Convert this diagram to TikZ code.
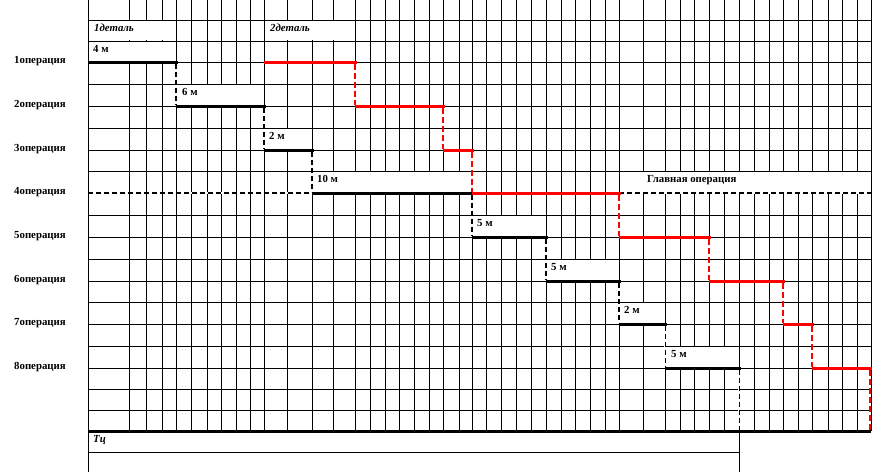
\documentclass[tikz,border=0pt]{standalone}
\usepackage[x11names]{xcolor}
\usepackage{fontspec}
\setmainfont{Liberation Serif}
\usepackage{tikz}

\begin{document}
\begin{tikzpicture}[x=1pt, y=-1pt]
    \def\fdraw{black}
    \def\sdraw{red}
    \def\xl{88}
    \def\xr{871}
    \def\ybot{431}
    \def\steplw{3pt}
    \def\gridlw{1pt}
    \def\lfont{\fontsize{10.8}{12}\selectfont\bfseries}
    \useasboundingbox (0,0) rectangle (877,475);

    % grid
    \foreach \y in {20,41,62,84,106,128,150,171,215,237,259,281,302,324,346,368,389,410}
        \draw[-, black, line width=\gridlw] (\xl,\y) -- (\xr,\y);
    \foreach \x in {129,146,162,176,191,207,221,236,250,264,287,312,333,355,370,385,399,414,429,443,459,472,486,501,516,531,546,561,575,590,605,619,643,665,680,694,709,724,739,754,769,783,798,812,828,842,857,\xr}
        \draw[-, black, line width=\gridlw] (\x,0) -- (\x,\ybot);
    \draw[-, black, line width=\gridlw] (\xl,0) -- (\xl,472);
    \draw[-, black, line width=\gridlw] (739,\ybot) -- (739,472);
    \draw[-, black, line width=\gridlw] (\xl,452) -- (739,452);

    % label cells
    \foreach \a/\b/\t/\u/\tx/\lab [count=\i] in {
        88/176/20/41/94/{\textit{1деталь}},
        264/355/20/41/270/{\textit{2деталь}},
        88/176/41/62/93/{4 м},
        176/264/84/106/182/{6 м},
        264/312/128/150/269/{2 м},
        312/472/171/193/317/{10 м},
        619/\xr/171/193/647/{Главная операция},
        472/546/215/237/477/{5 м},
        546/619/259/281/551/{5 м},
        619/665/302/324/624/{2 м},
        665/739/346/368/671/{5 м},
        88/739/431/452/93/{\textit{Тц}}} {
        \fill[white] (\a+0.6,\t+0.6) rectangle (\b-0.6,\u-0.6);
        \node[anchor=base west, inner sep=0pt, font=\lfont] (cell\i) at (\tx,\t+11) {\lab};
    }
    \draw[-, black, line width=3pt] (\xl,\ybot) -- (\xr,\ybot);

    % operations
    \foreach \k/\y in {1/62,2/106,3/150,4/193,5/237,6/281,7/324,8/368}
        \node[anchor=base west, inner sep=0pt, font=\lfont] (op\k) at (14,\y+1) {\k операция};

    % main operation
    \draw[-, white, line width=2pt] (\xl,193) -- (\xr,193);
    \draw[-, \fdraw, line width=1.8pt, dash pattern=on 5pt off 3pt] (\xl,193) -- (312,193);
    \draw[-, \fdraw, line width=1.8pt, dash pattern=on 5pt off 3pt] (619,193) -- (\xr,193);

    % 1st part
    \foreach \x/\ya/\yb/\w in {176/62/106/1.8, 264/106/150/1.8, 312/150/193/1.8, 472/193/237/1.8, 546/237/281/1.8, 619/281/324/1.8, 665/324/368/1, 739/368/431/1} {
        \draw[-, white, line width=1.8pt] (\x,\ya+1.5) -- (\x,\yb-1.5);
        \draw[-, \fdraw, line width=\w pt, dash pattern=on 5pt off 3pt] (\x,\ya+1.5) -- (\x,\yb-1.5);
    }
    \foreach \a/\b/\y in {88/176/62, 176/264/106, 264/312/150, 312/472/193, 472/546/237, 546/619/281, 619/665/324, 665/739/368}
        \draw[-, \fdraw, line width=\steplw] (\a,\y) -- (\b+1.5,\y);

    % 2nd part
    \foreach \x/\ya/\yb in {355/62/106, 443/106/150, 472/150/193, 619/193/237, 709/237/281, 783/281/324, 812/324/368, 870/368/431} {
        \draw[-, white, line width=1.8pt] (\x,\ya+1.5) -- (\x,\yb-1.5);
        \draw[-, \sdraw, line width=2pt, dash pattern=on 6pt off 3pt] (\x,\ya+1.5) -- (\x,\yb-1.5);
    }
    \foreach \a/\b/\y in {264/355/62, 355/443/106, 443/472/150, 472/619/193, 619/709/237, 709/783/281, 783/812/324, 812/870/368}
        \draw[-, \sdraw, line width=\steplw] (\a,\y) -- (\b+1.5,\y);
\end{tikzpicture}
\end{document}
